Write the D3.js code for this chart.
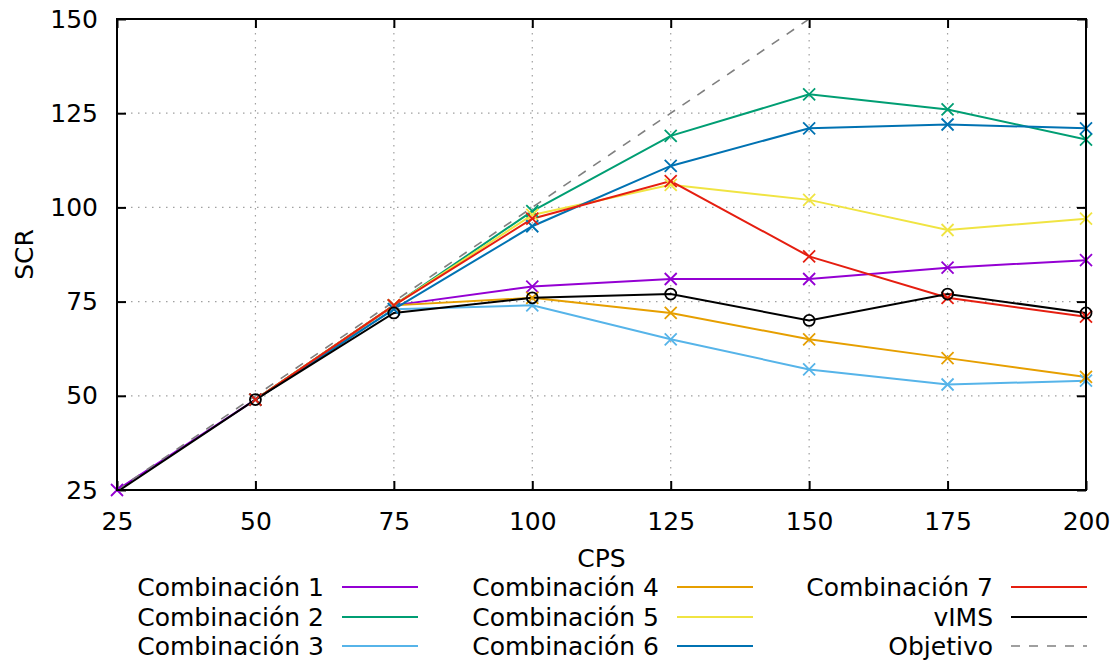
<!DOCTYPE html>
<html>
<head>
<meta charset="utf-8">
<script src="https://cdn.jsdelivr.net/npm/d3@7"></script>
<style>
  body { margin: 0; background: #fff; }
  svg text { font-family: "DejaVu Sans", sans-serif; font-size: 25px; fill: #000; }
</style>
</head>
<body>
<div id="chart"></div>
<script>
// data
var cps = [25, 50, 75, 100, 125, 150, 175, 200];
var comb1 = [25, 49, 74, 79, 81, 81, 84, 86];
var comb2 = [null, 49, 74, 99, 119, 130, 126, 118];
var comb3 = [null, 49, 73, 74, 65, 57, 53, 54];
var comb4 = [null, 49, 74, 76, 72, 65, 60, 55];
var comb5 = [null, 49, 74, 98, 106, 102, 94, 97];
var comb6 = [null, 49, 73, 95, 111, 121, 122, 121];
var comb7 = [null, 49, 74, 97, 107, 87, 76, 71];
var vims = [24.5, 49, 72, 76, 77, 70, 77, 72];
var objetivo = [25, 50, 75, 100, 125, 150, 175, 200];

var xTicks = [25, 50, 75, 100, 125, 150, 175, 200];
var yTicks = [25, 50, 75, 100, 125, 150];

var series = [
    {name: "Combinación 1", values: comb1, color: "#9400d3", mark: "x"},
    {name: "Combinación 2", values: comb2, color: "#009e73", mark: "x"},
    {name: "Combinación 3", values: comb3, color: "#56b4e9", mark: "x"},
    {name: "Combinación 4", values: comb4, color: "#e69f00", mark: "x"},
    {name: "Combinación 5", values: comb5, color: "#f0e442", mark: "x"},
    {name: "Combinación 6", values: comb6, color: "#0072b2", mark: "x"},
    {name: "Combinación 7", values: comb7, color: "#e51e10", mark: "x"},
    {name: "vIMS", values: vims, color: "#000000", mark: "o"},
    {name: "Objetivo", values: objetivo, color: "#808080", mark: null, dash: "9,9"}
];

var W = 1115, H = 661;
var margin = { top: 19, right: 29, bottom: 171, left: 117 },
    width = W - margin.left - margin.right,
    height = H - margin.top - margin.bottom;

var svg = d3.select("#chart").append("svg")
    .attr("width", W).attr("height", H);

svg.append("defs").append("clipPath").attr("id", "clip")
    .append("rect").attr("width", width).attr("height", height);

var g = svg.append("g").attr("transform", "translate(" + margin.left + "," + margin.top + ")");

var x = d3.scaleLinear().domain([25, 200]).range([0, width]);
var y = d3.scaleLinear().domain([25, 150]).range([height, 0]);

// grid
g.append("g").selectAll("line").data(xTicks.slice(1, -1)).enter().append("line")
    .attr("x1", function (d) { return x(d); }).attr("x2", function (d) { return x(d); })
    .attr("y1", 0).attr("y2", height)
    .attr("stroke", "#a0a0a0").attr("stroke-width", 1.2).attr("stroke-dasharray", "1.5,5.5");
g.append("g").selectAll("line").data(yTicks.slice(1, -1)).enter().append("line")
    .attr("y1", function (d) { return y(d); }).attr("y2", function (d) { return y(d); })
    .attr("x1", 0).attr("x2", width)
    .attr("stroke", "#a0a0a0").attr("stroke-width", 1.2).attr("stroke-dasharray", "1.5,5.5");

// axes, ticks pointing inward on all sides
var tickLen = 9;
var xAxis = g.append("g").attr("transform", "translate(0," + height + ")")
    .call(d3.axisBottom(x).tickValues(xTicks).tickSizeInner(-tickLen).tickSizeOuter(0));
var xTop = g.append("g")
    .call(d3.axisTop(x).tickValues(xTicks).tickSizeInner(-tickLen).tickSizeOuter(0).tickFormat(""));
var yAxis = g.append("g")
    .call(d3.axisLeft(y).tickValues(yTicks).tickSizeInner(-tickLen).tickSizeOuter(0).tickPadding(19));
var yRight = g.append("g").attr("transform", "translate(" + width + ",0)")
    .call(d3.axisRight(y).tickValues(yTicks).tickSizeInner(-tickLen).tickSizeOuter(0).tickFormat(""));

[xAxis, xTop, yAxis, yRight].forEach(function (a) {
    a.select(".domain").remove();
    a.selectAll(".tick line").attr("stroke", "#000").attr("stroke-width", 2);
    a.selectAll(".tick text").attr("font-family", "DejaVu Sans").attr("font-size", 25);
});
xAxis.selectAll(".tick text").attr("dy", "0.71em").attr("y", 22);

// lines
var line = d3.line()
    .defined(function (d) { return d.v !== null; })
    .x(function (d) { return x(d.x); })
    .y(function (d) { return y(d.v); });

var plot = g.append("g").attr("clip-path", "url(#clip)");

series.forEach(function (s) {
    var pts = cps.map(function (c, i) { return {x: c, v: s.values[i]}; });
    plot.append("path")
        .datum(pts)
        .attr("fill", "none")
        .attr("stroke", s.color)
        .attr("stroke-width", s.dash ? 1.6 : 2)
        .attr("stroke-dasharray", s.dash || null)
        .attr("d", line);

    if (!s.mark) return;
    var shown = pts.filter(function (d) { return d.v !== null && d.v >= 25 && d.v <= 150; });
    if (s.mark === "x") {
        g.append("g").selectAll("path").data(shown).enter().append("path")
            .attr("transform", function (d) { return "translate(" + x(d.x) + "," + y(d.v) + ")"; })
            .attr("d", "M-6,-6L6,6M-6,6L6,-6")
            .attr("stroke", s.color).attr("stroke-width", 1.8).attr("fill", "none");
    } else {
        g.append("g").selectAll("circle").data(shown).enter().append("circle")
            .attr("cx", function (d) { return x(d.x); })
            .attr("cy", function (d) { return y(d.v); })
            .attr("r", 5.5)
            .attr("stroke", s.color).attr("stroke-width", 1.8).attr("fill", "none");
    }
});

// border
g.append("rect").attr("width", width).attr("height", height)
    .attr("fill", "none").attr("stroke", "#000").attr("stroke-width", 2);

// axis titles
svg.append("text").attr("x", margin.left + width / 2).attr("y", 567)
    .attr("text-anchor", "middle").text("CPS");
svg.append("text").attr("transform", "translate(33," + (margin.top + height / 2) + ") rotate(-90)")
    .attr("text-anchor", "middle").text("SCR");

// legend, 3 columns filled top to bottom
var legCols = [324, 659, 993];
var legRows = [596, 626, 655];
var legend = svg.append("g");
series.forEach(function (s, i) {
    var cx = legCols[Math.floor(i / 3)], cy = legRows[i % 3];
    legend.append("text").attr("x", cx).attr("y", cy)
        .attr("text-anchor", "end").text(s.name);
    legend.append("line")
        .attr("x1", cx + 18).attr("x2", cx + 94)
        .attr("y1", cy - 9).attr("y2", cy - 9)
        .attr("stroke", s.color)
        .attr("stroke-width", s.dash ? 1.6 : 2)
        .attr("stroke-dasharray", s.dash || null);
});
</script>
</body>
</html>
